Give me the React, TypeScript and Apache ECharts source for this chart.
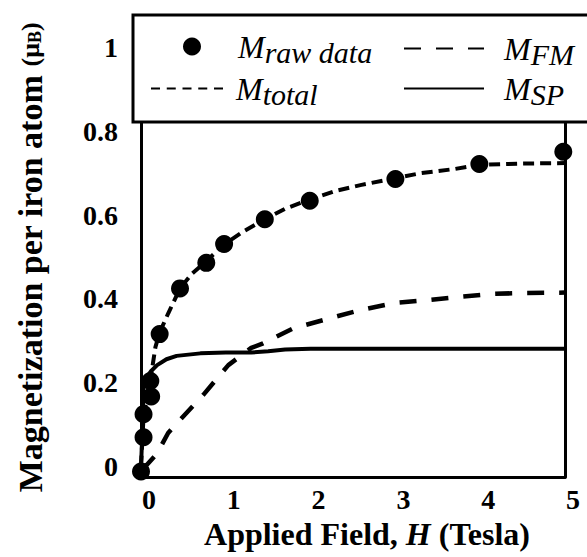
import React, { useEffect, useRef } from "react";
import * as echarts from "echarts";

// Raw data points (Applied field in Tesla, magnetization in μB per Fe atom)
const rawField = [0, 0.03, 0.03, 0.12, 0.11, 0.22, 0.46, 0.77, 0.98, 1.46, 1.99, 3.0, 3.99, 4.98];
const rawMag = [-0.012, 0.07, 0.125, 0.167, 0.204, 0.316, 0.425, 0.486, 0.531, 0.59, 0.634, 0.686, 0.722, 0.751];

// M_total fit curve
const totalField = [0, 0.015, 0.03, 0.07, 0.11, 0.14, 0.17, 0.22, 0.32, 0.46, 0.6, 0.77, 0.98, 1.2, 1.46, 1.7, 2.0, 2.3, 2.6, 3.0, 3.3, 3.7, 4.0, 4.5, 5.0];
const totalMag = [0, 0.06, 0.12, 0.165, 0.205, 0.245, 0.285, 0.32, 0.365, 0.425, 0.46, 0.49, 0.53, 0.56, 0.59, 0.615, 0.638, 0.658, 0.672, 0.688, 0.7, 0.71, 0.72, 0.723, 0.724];

// M_FM component
const fmField = [0, 0.07, 0.19, 0.32, 0.44, 0.735, 1.03, 1.3, 1.44, 1.8, 2.23, 2.58, 2.98, 3.37, 3.76, 4.15, 4.5, 5];
const fmMag = [0, 0.004, 0.031, 0.08, 0.107, 0.171, 0.242, 0.283, 0.294, 0.33, 0.354, 0.373, 0.39, 0.397, 0.405, 0.412, 0.414, 0.415];

// M_SP component
const spField = [0, 0.02, 0.03, 0.07, 0.12, 0.19, 0.3, 0.42, 0.7, 1.0, 1.3, 1.5, 1.7, 2.0, 3, 4, 5];
const spMag = [0, 0.1, 0.19, 0.214, 0.228, 0.242, 0.256, 0.264, 0.27, 0.272, 0.272, 0.275, 0.279, 0.281, 0.281, 0.281, 0.281];

const yTicks = [0, 0.2, 0.4, 0.6, 0.8, 1];

const legendLabels: Record<string, [string, string]> = {
  raw: ["M", "raw data"],
  FM: ["M", "FM"],
  total: ["M", "total"],
  SP: ["M", "SP"],
};

const zip = (xs: number[], ys: number[]) => xs.map((x, i) => [x, ys[i]]);

export default function App() {
  const ref = useRef<HTMLDivElement>(null);
  useEffect(() => {
    const chart = echarts.init(ref.current!, null, { renderer: "svg" });
    const serif = "Liberation Serif";
    const legendRich = {
      m: { fontFamily: serif, fontStyle: "italic", fontSize: 32, color: "#000", lineHeight: 34 },
      s: { fontFamily: serif, fontStyle: "italic", fontSize: 30, color: "#000", lineHeight: 34, padding: [11, 0, 0, 0] },
    };
    const fmt = (name: string) => {
      const l = legendLabels[name];
      return `{m|${l[0]}}{s|${l[1]}}`;
    };
    const mkLegend = (
      name: string,
      left: number,
      top: number,
      itemWidth: number,
      itemHeight: number,
      pad: number,
      extra: any = {}
    ) => ({
      data: [name],
      left,
      top,
      itemWidth,
      itemHeight,
      padding: 0,
      z: 60,
      selectedMode: false,
      formatter: fmt,
      textStyle: { fontFamily: serif, padding: [0, 0, 0, pad], rich: legendRich },
      ...extra,
    });
    const hideSym = { itemStyle: { opacity: 0 } };

    chart.setOption({
      animation: false,
      backgroundColor: "#fff",
      textStyle: { fontFamily: serif },
      grid: { left: 141, right: 22, top: 16, bottom: 80 },
      graphic: [
        {
          type: "rect",
          z: 50,
          shape: { x: 133, y: 15, width: 480, height: 107 },
          style: { fill: "#fff", stroke: "#000", lineWidth: 3 },
        },
      ],
      legend: [
        mkLegend("raw", 183, 26, 18, 18, 32),
        mkLegend("FM", 403, 28, 80, 14, 15, hideSym),
        mkLegend("total", 150, 68, 72, 14, 8, { ...hideSym, lineStyle: { type: [9, 6.75] } }),
        mkLegend("SP", 403, 68, 80, 14, 15, hideSym),
      ],
      xAxis: {
        type: "value",
        min: 0,
        max: 5,
        interval: 1,
        axisLine: { onZero: false, lineStyle: { color: "#000", width: 3 } },
        axisTick: { show: false },
        splitLine: { show: false },
        axisLabel: {
          fontFamily: serif,
          fontWeight: "bold",
          fontSize: 28,
          color: "#000",
          margin: 8,
          padding: [0, 0, 0, 16],
        },
        name: "{b|Applied Field, }{i|H}{b| (Tesla)}",
        nameLocation: "middle",
        nameGap: 39,
        nameTextStyle: {
          fontFamily: serif,
          padding: [0, 0, 0, 28],
          rich: {
            b: { fontFamily: serif, fontWeight: "bold", fontSize: 32, color: "#000" },
            i: { fontFamily: serif, fontWeight: "bold", fontStyle: "italic", fontSize: 32, color: "#000" },
          },
        },
      },
      yAxis: [
        {
          type: "value",
          min: -0.025,
          max: 1.075,
          axisLine: { show: true, onZero: false, lineStyle: { color: "#000", width: 3 } },
          axisTick: { show: false },
          splitLine: { show: false },
          axisLabel: {
            customValues: yTicks,
            fontFamily: serif,
            fontWeight: "bold",
            fontSize: 28,
            color: "#000",
            margin: 23,
            formatter: (v: number) => String(v),
          },
          name: "{b|Magnetization per iron atom }{p|(μ}{s|B}{p|)}",
          nameLocation: "middle",
          nameGap: 94,
          nameTextStyle: {
            fontFamily: serif,
            padding: [0, 22, 0, 0],
            rich: {
              b: { fontFamily: serif, fontWeight: "bold", fontSize: 34, color: "#000" },
              p: { fontFamily: serif, fontWeight: "bold", fontSize: 26, color: "#000" },
              s: { fontFamily: serif, fontWeight: "bold", fontSize: 18, color: "#000", padding: [9, 0, 0, 0] },
            },
          },
        },
        {
          type: "value",
          position: "right",
          min: 0,
          max: 1,
          axisLine: { show: true, onZero: false, lineStyle: { color: "#000", width: 3 } },
          axisTick: { show: false },
          axisLabel: { show: false },
          splitLine: { show: false },
        },
      ],
      series: [
        {
          name: "total",
          type: "line",
          color: "#000",
          data: zip(totalField, totalMag),
          symbol: "none",
          lineStyle: { color: "#000", width: 4, type: [11, 6] },
          z: 3,
        },
        {
          name: "FM",
          type: "line",
          color: "#000",
          data: zip(fmField, fmMag),
          symbol: "none",
          lineStyle: { color: "#000", width: 4.5, type: [17, 15] },
          z: 3,
        },
        {
          name: "SP",
          type: "line",
          color: "#000",
          data: zip(spField, spMag),
          symbol: "none",
          lineStyle: { color: "#000", width: 4 },
          z: 3,
        },
        {
          name: "raw",
          type: "scatter",
          color: "#000",
          data: zip(rawField, rawMag),
          symbol: "circle",
          symbolSize: 18,
          itemStyle: { color: "#000", opacity: 1 },
          clip: false,
          z: 5,
        },
      ],
    });
    return () => chart.dispose();
  }, []);
  return <div ref={ref} style={{ position: "fixed", left: 0, top: 0, width: 587, height: 557 }} />;
}
